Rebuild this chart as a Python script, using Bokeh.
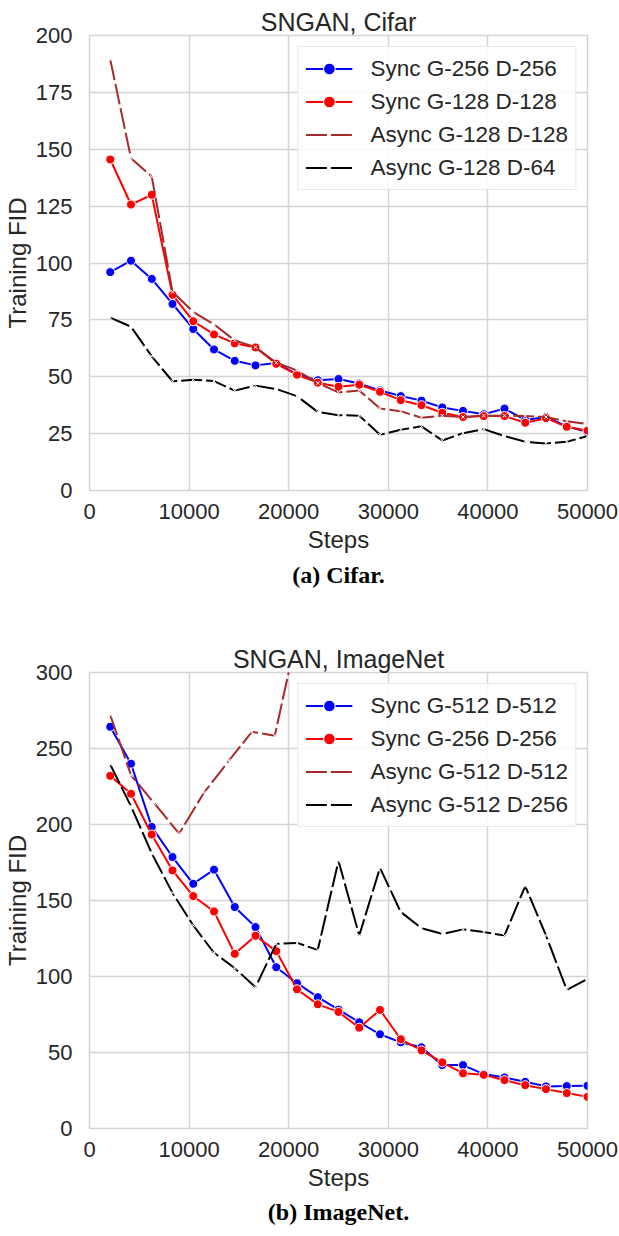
from bokeh.plotting import figure
from bokeh.models import Range1d, Legend, LegendItem, Title, FixedTicker
from bokeh.layouts import column
from bokeh.embed import file_html
from bokeh.resources import INLINE

# ---------------- data ----------------
steps = [2083, 4167, 6250, 8333, 10417, 12500, 14583, 16667, 18750, 20833, 22917, 25000,
         27083, 29167, 31250, 33333, 35417, 37500, 39583, 41667, 43750, 45833, 47917, 50000]

# Cifar
cifar_sync_256 = [96, 101, 93, 82, 71, 62, 57, 55, 56, 51, 48.5, 49, 47, 44, 41.5, 39.5,
                  36.5, 35, 33.5, 36, 31, 32.3, 28.2, 25.7]
cifar_sync_128 = [145.5, 125.7, 130, 86, 74.4, 68.6, 64.7, 62.9, 55.7, 50.9, 47.4, 45.6,
                  46.5, 43.4, 39.7, 37.5, 34.2, 32.3, 32.7, 32.7, 29.8, 31.8, 28, 26.3]
cifar_async_128 = [189.5, 146, 138, 87.3, 78.5, 73, 66, 63, 56.2, 52.8, 47.2, 43.1, 44, 36,
                   34.8, 32, 32.9, 32.3, 32.9, 32.9, 32.7, 32.3, 30.4, 29.2]
cifar_async_64 = [76, 72, 59, 48, 48.7, 48.1, 43.9, 46.1, 44.6, 41.5, 34.5, 33.1, 32.9, 24.5,
                  26.7, 28.2, 22, 25.2, 27, 23.9, 21.4, 20.7, 21.4, 23.9]

# ImageNet
imnet_sync_512 = [264.3, 240, 198.4, 178.6, 161, 170.3, 145.7, 132.5, 106.1, 95.6, 86.4, 78.2,
                  69.9, 62, 56.7, 53.4, 41.7, 41.7, 35.8, 33.6, 30.7, 27.7, 27.9, 28.1]
imnet_sync_256 = [232, 220.2, 193.4, 169.8, 152.9, 142.8, 114.9, 126.8, 116.7, 91.6, 81.7, 76.7,
                  66.3, 78, 58.7, 51.4, 43.5, 36.3, 35.3, 31.8, 28.5, 25.9, 23.3, 20.8]
imnet_async_512_steps = [2083, 4167, 6500, 9000, 11500, 14000, 16300, 18600, 21000]
imnet_async_512 = [272, 232.4, 214, 194, 221, 242, 261, 258.4, 330]
imnet_async_256 = [239.5, 212, 181, 155, 133.6, 115.6, 105.5, 93, 121.5, 122.1, 117.5, 176,
                   127, 171.5, 142.4, 131.8, 128, 131, 129.2, 127, 159.5, 127, 91.2, 98.4]

x_ticks = [0, 10000, 20000, 30000, 40000, 50000]
cifar_y_ticks = [0, 25, 50, 75, 100, 125, 150, 175, 200]
imnet_y_ticks = [0, 50, 100, 150, 200, 250, 300]

TXT = "#262626"
GRID = "#d4d4d4"
FONT = "Liberation Sans"


def make_fig(title, caption, ymax, yticks, series, top_border, bottom_border, frame_h, cap_standoff):
    p = figure(frame_width=498, frame_height=frame_h,
               x_range=Range1d(0, 50000), y_range=Range1d(0, ymax),
               output_backend="svg", toolbar_location=None,
               min_border_left=82, min_border_right=31,
               min_border_top=top_border, min_border_bottom=bottom_border,
               background_fill_color="white", border_fill_color="white",
               outline_line_color=GRID, outline_line_width=1.5)
    p.title.text = title
    p.title.align = "center"
    p.title.text_font = FONT
    p.title.text_font_size = "25px"
    p.title.text_font_style = "normal"
    p.title.text_color = TXT
    p.title.standoff = 0

    p.xaxis.ticker = FixedTicker(ticks=x_ticks)
    p.yaxis.ticker = FixedTicker(ticks=yticks)
    for ax in (p.xaxis, p.yaxis):
        ax.axis_line_color = None
        ax.major_tick_line_color = None
        ax.minor_tick_line_color = None
        ax.major_label_text_font = FONT
        ax.major_label_text_font_size = "22px"
        ax.major_label_text_color = TXT
        ax.axis_label_text_font = FONT
        ax.axis_label_text_font_size = "24px"
        ax.axis_label_text_font_style = "normal"
        ax.axis_label_text_color = TXT
    p.xaxis.axis_label = "Steps"
    p.yaxis.axis_label = "Training FID"
    p.xaxis.major_label_standoff = 7
    p.xaxis.axis_label_standoff = 4
    p.yaxis.major_label_standoff = 11
    p.yaxis.axis_label_standoff = 2

    p.xgrid.grid_line_color = GRID
    p.ygrid.grid_line_color = GRID
    p.xgrid.grid_line_width = 1.5
    p.ygrid.grid_line_width = 1.5

    items = []
    for label, xs, ys, color, kind in series:
        if kind == "sync":
            r1 = p.line(xs, ys, line_color=color, line_width=2)
            r2 = p.scatter(xs, ys, size=9, fill_color=color, line_color="white", line_width=1)
            items.append(LegendItem(label=label, renderers=[r1, r2]))
        else:
            r1 = p.line(xs, ys, line_color=color, line_width=2, line_dash="21 4")
            p.scatter(xs, ys, marker="x", size=5, line_color="white", line_width=1)
            items.append(LegendItem(label=label, renderers=[r1]))

    leg = Legend(items=items, location="top_right")
    leg.label_text_font = FONT
    leg.label_text_font_size = "22.5px"
    leg.label_text_color = TXT
    leg.glyph_width = 47
    leg.glyph_height = 29
    leg.label_height = 29
    leg.spacing = 4
    leg.padding = 7
    leg.margin = 11
    leg.label_standoff = 18
    leg.border_line_color = GRID
    leg.border_line_width = 1.5
    leg.background_fill_alpha = 0.85
    p.add_layout(leg)

    cap = Title(text=caption, align="center", text_font="Liberation Serif",
                text_font_style="bold", text_font_size="24px", text_color="black",
                standoff=cap_standoff)
    p.add_layout(cap, "below")
    return p


p1 = make_fig("SNGAN, Cifar", "(a) Cifar.", 200, cifar_y_ticks, [
    ("Sync G-256 D-256", steps, cifar_sync_256, "blue", "sync"),
    ("Sync G-128 D-128", steps, cifar_sync_128, "red", "sync"),
    ("Async G-128 D-128", steps, cifar_async_128, "brown", "async"),
    ("Async G-128 D-64", steps, cifar_async_64, "black", "async"),
], top_border=35, bottom_border=117, frame_h=455, cap_standoff=9)

p2 = make_fig("SNGAN, ImageNet", "(b) ImageNet.", 300, imnet_y_ticks, [
    ("Sync G-512 D-512", steps, imnet_sync_512, "blue", "sync"),
    ("Sync G-256 D-256", steps, imnet_sync_256, "red", "sync"),
    ("Async G-512 D-512", imnet_async_512_steps, imnet_async_512, "brown", "async"),
    ("Async G-512 D-256", steps, imnet_async_256, "black", "async"),
], top_border=65, bottom_border=98, frame_h=456, cap_standoff=7)

layout = column(p1, p2)
open("out.html", "w").write(file_html(layout, INLINE))
